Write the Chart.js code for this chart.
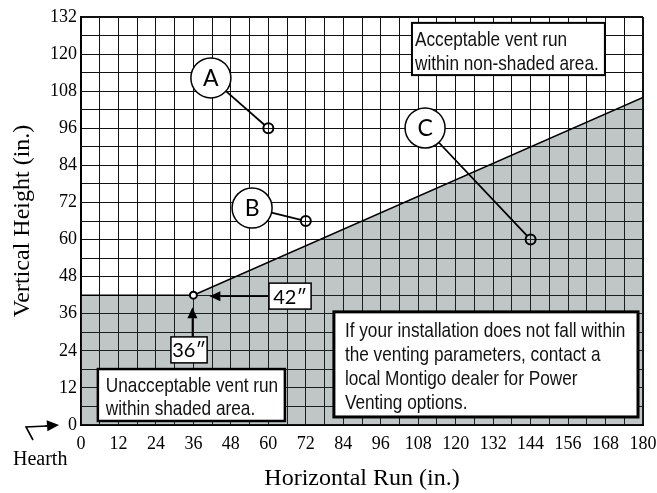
<!DOCTYPE html>
<html>
<head>
<meta charset="utf-8">
<script src="https://cdn.jsdelivr.net/npm/chart.js@4.4.0/dist/chart.umd.min.js"></script>
<style>
  html, body { margin: 0; padding: 0; background: #fff; }
</style>
</head>
<body>
<canvas id="grafico" width="657" height="493"></canvas>
<script>
const d = document;

// Datos del grafico
const xEtiquetas = [0, 12, 24, 36, 48, 60, 72, 84, 96, 108, 120, 132, 144, 156, 168, 180];
const yEtiquetas = [0, 12, 24, 36, 48, 60, 72, 84, 96, 108, 120, 132];
const limiteX = [0, 36, 180];
const limiteY = [42, 42, 106];
const puntosNombre = ['A', 'B', 'C'];
const puntosX = [60, 72, 144];
const puntosY = [96, 66, 60];
const minimoX = [36];
const minimoY = [42];

// Ubicacion de las etiquetas (en unidades del grafico)
const llamadaX = [41.6, 54.8, 110.2];
const llamadaY = [112.3, 70.2, 96.1];

const cajas = [
  { x0: 106, x1: 167.8, y0: 130.1, y1: 113.2, borde: 2, dx: 3, base: 23, salto: 24,
    lineas: ['Acceptable vent run', 'within non-shaded area.'] },
  { x0: 5.4, x1: 65.3, y0: 18.1, y1: 1.3, borde: 2.5, dx: 8, base: 23, salto: 23,
    lineas: ['Unacceptable vent run', 'within shaded area.'] },
  { x0: 81, x1: 178.4, y0: 36.6, y1: 2.6, borde: 3, dx: 11, base: 25, salto: 24,
    lineas: ['If your installation does not fall within', 'the venting parameters, contact a',
      'local Montigo dealer for Power', 'Venting options.'] }
];

const $canvas = d.getElementById('grafico');
const ctx0 = $canvas.getContext('2d');

//Ver si existe la fuente angosta
const ancho = (fam) => { ctx0.font = '40px ' + fam; return ctx0.measureText('abcdefghijklmnopqrstuvwxyz').width; };
const hayAngosta = ancho('"Liberation Sans Narrow", monospace') !== ancho('monospace');

const textoAngosto = (ctx, texto, x, y) => {
  ctx.save();
  ctx.textAlign = 'left';
  ctx.textBaseline = 'alphabetic';
  if (hayAngosta) {
    ctx.font = '21px "Liberation Sans Narrow"';
    ctx.fillText(texto, x, y);
  } else {
    ctx.font = '21px "Liberation Sans"';
    ctx.translate(x, y);
    ctx.scale(0.82, 1);
    ctx.fillText(texto, 0, 0);
  }
  ctx.restore();
};

const flecha = (ctx, x1, y1, x2, y2, largo, medio) => {
  // linea de (x1,y1) a la punta (x2,y2)
  const ang = Math.atan2(y2 - y1, x2 - x1);
  const bx = x2 - Math.cos(ang) * largo, by = y2 - Math.sin(ang) * largo;
  ctx.beginPath();
  ctx.moveTo(x1, y1);
  ctx.lineTo(bx, by);
  ctx.stroke();
  ctx.beginPath();
  ctx.moveTo(x2, y2);
  ctx.lineTo(bx - Math.sin(ang) * medio, by + Math.cos(ang) * medio);
  ctx.lineTo(bx + Math.sin(ang) * medio, by - Math.cos(ang) * medio);
  ctx.closePath();
  ctx.fill();
};

const cajaChica = (ctx, x0, y0, x1, y1, texto) => {
  ctx.fillStyle = '#fff';
  ctx.fillRect(x0, y0, x1 - x0, y1 - y0);
  ctx.lineWidth = 1.5;
  ctx.strokeStyle = '#000';
  ctx.strokeRect(x0, y0, x1 - x0, y1 - y0);
  ctx.fillStyle = '#000';
  ctx.font = '20px Lato';
  ctx.textAlign = 'center';
  ctx.textBaseline = 'middle';
  ctx.fillText(texto, (x0 + x1) / 2, (y0 + y1) / 2 + 1);
};

// Plugin de anotaciones
const anotaciones = {
  id: 'anotaciones',
  afterDatasetsDraw(chart) {
    const ctx = chart.ctx, sx = chart.scales.x, sy = chart.scales.y, area = chart.chartArea;
    ctx.save();
    ctx.strokeStyle = '#000';
    ctx.fillStyle = '#000';

    //Llamadas A B C
    puntosNombre.forEach((nom, i) => {
      const cx = sx.getPixelForValue(llamadaX[i]), cy = sy.getPixelForValue(llamadaY[i]);
      const px = sx.getPixelForValue(puntosX[i]), py = sy.getPixelForValue(puntosY[i]);
      const ang = Math.atan2(py - cy, px - cx), dist = Math.hypot(px - cx, py - cy);
      ctx.lineWidth = 1.8;
      ctx.beginPath();
      ctx.moveTo(cx + Math.cos(ang) * 20, cy + Math.sin(ang) * 20);
      ctx.lineTo(cx + Math.cos(ang) * (dist - 5), cy + Math.sin(ang) * (dist - 5));
      ctx.stroke();
      ctx.beginPath();
      ctx.arc(cx, cy, 20, 0, Math.PI * 2);
      ctx.fillStyle = '#fff';
      ctx.fill();
      ctx.lineWidth = 1.5;
      ctx.stroke();
      ctx.fillStyle = '#000';
      ctx.font = '23px Lato';
      ctx.textAlign = 'center';
      ctx.textBaseline = 'middle';
      ctx.fillText(nom, cx, cy + 1);
    });

    //Cajas de texto
    cajas.forEach((c) => {
      const x0 = sx.getPixelForValue(c.x0), x1 = sx.getPixelForValue(c.x1);
      const y0 = sy.getPixelForValue(c.y0), y1 = sy.getPixelForValue(c.y1);
      ctx.fillStyle = '#fff';
      ctx.fillRect(x0, y0, x1 - x0, y1 - y0);
      ctx.lineWidth = c.borde;
      ctx.strokeStyle = '#000';
      ctx.strokeRect(x0, y0, x1 - x0, y1 - y0);
      ctx.fillStyle = '#111';
      c.lineas.forEach((l, k) => textoAngosto(ctx, l, x0 + c.dx, y0 + c.base + k * c.salto));
    });

    //Flechas 42" y 36"
    const mx = sx.getPixelForValue(minimoX[0]), my = sy.getPixelForValue(minimoY[0]);
    ctx.fillStyle = '#000';
    ctx.lineWidth = 1.5;
    const b42x = sx.getPixelForValue(60.2);
    flecha(ctx, b42x, my + 1, mx + 16, my + 1, 11, 5);
    cajaChica(ctx, b42x, sy.getPixelForValue(45.9), sx.getPixelForValue(73.7), sy.getPixelForValue(37.5), '42″');
    const b36y = sy.getPixelForValue(28.5);
    ctx.fillStyle = '#000';
    flecha(ctx, mx - 1, b36y, mx - 1, my + 12, 11, 5);
    cajaChica(ctx, sx.getPixelForValue(28.8), b36y, sx.getPixelForValue(40.4), sy.getPixelForValue(20.1), '36″');

    //Hearth
    const L = area.left, B = area.bottom;
    ctx.fillStyle = '#000';
    ctx.strokeStyle = '#000';
    ctx.lineWidth = 1.6;
    ctx.beginPath();
    ctx.moveTo(L - 48, B + 15);
    ctx.lineTo(L - 55, B + 2);
    ctx.lineTo(L - 34, B + 1);
    ctx.stroke();
    flecha(ctx, L - 36, B + 1, L - 22, B, 12, 5.5);
    ctx.font = '20px "Liberation Serif"';
    ctx.textAlign = 'left';
    ctx.textBaseline = 'alphabetic';
    ctx.fillText('Hearth', L - 68, B + 40);
    ctx.restore();
  }
};

const grosor = (maximo) => (c) => (c.tick && c.tick.value === maximo ? 2 : 1);

const config = {
  type: 'scatter',
  data: {
    datasets: [
      {
        type: 'line',
        data: limiteX.map((x, i) => ({ x: x, y: limiteY[i] })),
        borderColor: '#000',
        borderWidth: 1.5,
        backgroundColor: 'rgba(48,62,62,0.3)',
        fill: 'origin',
        pointRadius: 0,
        tension: 0,
        order: 3
      },
      {
        data: puntosX.map((x, i) => ({ x: x, y: puntosY[i] })),
        pointRadius: 5,
        pointBorderWidth: 2,
        borderColor: '#000',
        backgroundColor: 'rgba(0,0,0,0)',
        order: 1
      },
      {
        data: minimoX.map((x, i) => ({ x: x, y: minimoY[i] })),
        pointRadius: 3.5,
        pointBorderWidth: 2,
        borderColor: '#000',
        backgroundColor: '#fff',
        order: 2
      }
    ]
  },
  options: {
    responsive: false,
    devicePixelRatio: 1,
    animation: false,
    layout: { padding: { top: 17, right: 14, left: 0, bottom: 0 } },
    plugins: { legend: { display: false }, tooltip: { enabled: false } },
    scales: {
      x: {
        type: 'linear',
        min: 0,
        max: 180,
        afterFit: (escala) => {
          escala.height = 68;
          escala.paddingLeft = 0;
          escala.paddingRight = 0;
        },
        ticks: {
          stepSize: 6,
          autoSkip: false,
          maxRotation: 0,
          padding: 8,
          color: '#000',
          font: { family: 'Liberation Serif', size: 18 },
          callback: (v) => (xEtiquetas.includes(v) ? v : '')
        },
        grid: { color: '#111', lineWidth: grosor(180), drawTicks: false },
        border: { display: true, color: '#000', width: 2 },
        title: {
          display: true,
          text: 'Horizontal Run (in.)',
          color: '#000',
          font: { family: 'Liberation Serif', size: 24 },
          padding: { top: 0, bottom: 0 }
        }
      },
      y: {
        type: 'linear',
        min: 0,
        max: 132,
        afterFit: (escala) => {
          escala.width = 81;
          escala.paddingTop = 0;
          escala.paddingBottom = 0;
        },
        ticks: {
          stepSize: 6,
          autoSkip: false,
          padding: 4,
          color: '#000',
          font: { family: 'Liberation Serif', size: 18 },
          callback: (v) => (yEtiquetas.includes(v) ? v : '')
        },
        grid: { color: '#111', lineWidth: grosor(132), drawTicks: false },
        border: { display: true, color: '#000', width: 2 },
        title: {
          display: true,
          text: 'Vertical Height (in.)',
          color: '#000',
          font: { family: 'Liberation Serif', size: 24 },
          padding: { top: 8, bottom: 0 }
        }
      }
    }
  },
  plugins: [anotaciones]
};

new Chart($canvas, config);
</script>
</body>
</html>
